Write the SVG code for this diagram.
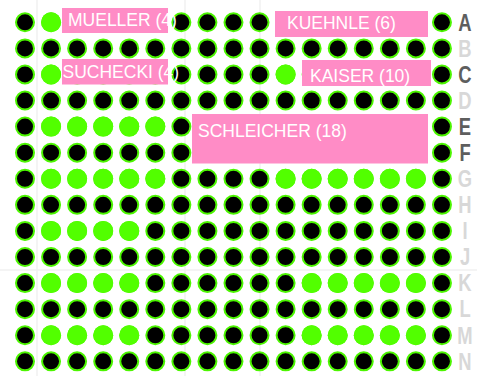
<svg xmlns="http://www.w3.org/2000/svg" xmlns:xlink="http://www.w3.org/1999/xlink" width="477" height="376" viewBox="0 0 477 376">
<style>
.bw{fill:#000;stroke:#4cf500;stroke-width:2}
.gw{fill:#52ff00}
.lbl{fill:#ff8cc6}
.lt{fill:#fff;font-family:"Liberation Sans",Arial,sans-serif;font-size:17.5px}
.rl{font-family:"Liberation Sans",Arial,sans-serif;font-weight:bold;font-size:23px;text-anchor:middle}
.dk{fill:#5e5e5e}
.lg{fill:#d8d8d8}
.bg{stroke:#f1f1f1;stroke-width:1.5;fill:none}
</style>
<defs>
<circle id="b" r="9" class="bw"/>
<circle id="g" r="10" class="gw"/>
<g id="row">
<use href="#b" x="25"/><use href="#b" x="51.06"/><use href="#b" x="77.12"/><use href="#b" x="103.18"/><use href="#b" x="129.24"/><use href="#b" x="155.3"/><use href="#b" x="181.36"/><use href="#b" x="207.42"/><use href="#b" x="233.48"/><use href="#b" x="259.54"/><use href="#b" x="285.6"/><use href="#b" x="311.66"/><use href="#b" x="337.72"/><use href="#b" x="363.78"/><use href="#b" x="389.84"/><use href="#b" x="415.9"/><use href="#b" x="441.96"/>
</g>
<g id="g15">
<use href="#g" x="51.06"/><use href="#g" x="77.12"/><use href="#g" x="103.18"/><use href="#g" x="129.24"/><use href="#g" x="155.3"/>
</g>
<g id="g14">
<use href="#g" x="51.06"/><use href="#g" x="77.12"/><use href="#g" x="103.18"/><use href="#g" x="129.24"/>
</g>
<g id="g1115">
<use href="#g" x="311.66"/><use href="#g" x="337.72"/><use href="#g" x="363.78"/><use href="#g" x="389.84"/><use href="#g" x="415.9"/>
</g>
</defs>
<rect width="477" height="376" fill="#fff"/>
<g id="background">
<path class="bg" d="M37 0V376M185 0V376M260 0V376M0 270H477"/>
</g>
<g id="wells">
<use href="#row" y="22.3"/>
<use href="#row" y="48.38"/>
<use href="#row" y="74.46"/>
<use href="#row" y="100.54"/>
<use href="#row" y="126.62"/>
<use href="#row" y="152.7"/>
<use href="#row" y="178.78"/>
<use href="#row" y="204.86"/>
<use href="#row" y="230.94"/>
<use href="#row" y="257.02"/>
<use href="#row" y="283.1"/>
<use href="#row" y="309.18"/>
<use href="#row" y="335.26"/>
<use href="#row" y="361.34"/>
<use href="#g" x="51.06" y="22.3"/>
<use href="#g" x="51.06" y="74.46"/>
<use href="#g" x="285.6" y="74.46"/>
<use href="#g15" y="126.62"/>
<use href="#g15" y="178.78"/>
<use href="#g" x="285.6" y="178.78"/>
<use href="#g1115" y="178.78"/>
<use href="#g14" y="230.94"/>
<use href="#g14" y="283.1"/>
<use href="#g1115" y="283.1"/>
<use href="#g14" y="335.26"/>
<use href="#g1115" y="335.26"/>
</g>
<g id="mueller">
<rect class="lbl" x="62" y="8" width="106" height="25"/>
<text class="lt" x="68" y="26">MUELLER (4)</text>
</g>
<g id="kuehnle">
<rect class="lbl" x="275" y="11" width="153" height="26"/>
<text class="lt" x="287" y="28.5">KUEHNLE (6)</text>
</g>
<g id="suchecki">
<rect class="lbl" x="62" y="59" width="106" height="25.5"/>
<text class="lt" x="62.5" y="78">SUCHECKI (4)</text>
</g>
<g id="kaiser">
<rect class="lbl" x="302" y="60" width="129" height="26"/>
<text class="lt" x="310" y="81.5">KAISER (10)</text>
</g>
<g id="schleicher">
<rect class="lbl" x="192" y="114" width="236" height="49.5"/>
<text class="lt" x="198" y="136.5">SCHLEICHER (18)</text>
</g>
<g id="row-letters" class="rl">
<text class="dk" transform="translate(465,30.6) scale(0.8,1)">A</text>
<text class="lg" transform="translate(465,56.68) scale(0.8,1)">B</text>
<text class="dk" transform="translate(465,82.76) scale(0.8,1)">C</text>
<text class="lg" transform="translate(465,108.84) scale(0.8,1)">D</text>
<text class="dk" transform="translate(465,134.92) scale(0.8,1)">E</text>
<text class="dk" transform="translate(465,161) scale(0.8,1)">F</text>
<text class="lg" transform="translate(465,187.08) scale(0.8,1)">G</text>
<text class="lg" transform="translate(465,213.16) scale(0.8,1)">H</text>
<text class="lg" transform="translate(465,239.24) scale(0.8,1)">I</text>
<text class="lg" transform="translate(465,265.32) scale(0.8,1)">J</text>
<text class="lg" transform="translate(465,291.4) scale(0.8,1)">K</text>
<text class="lg" transform="translate(465,317.48) scale(0.8,1)">L</text>
<text class="lg" transform="translate(465,343.56) scale(0.8,1)">M</text>
<text class="lg" transform="translate(465,369.64) scale(0.8,1)">N</text>
</g>
</svg>
